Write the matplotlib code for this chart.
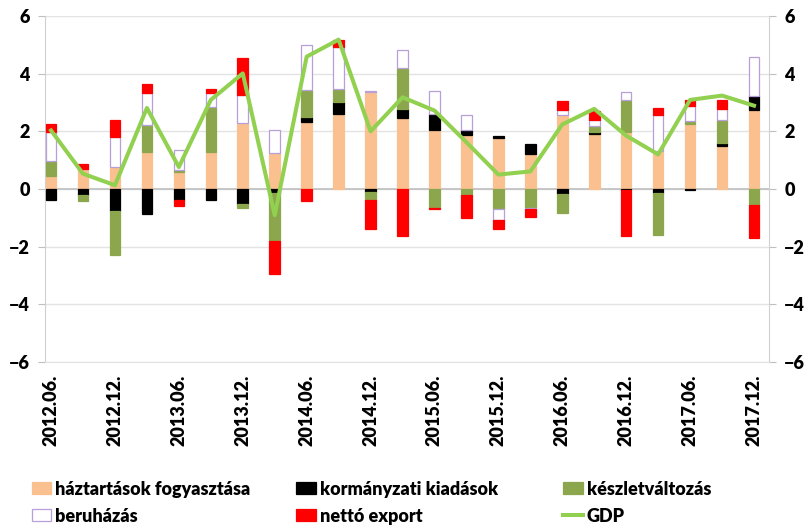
import numpy as np
import matplotlib
matplotlib.use("Agg")
import matplotlib.pyplot as plt
from matplotlib import font_manager as fm

# pick a family that has a real heavy/bold face installed
family = "DejaVu Sans"
weight = "bold"
faces = {(f.name, f.weight) for f in fm.fontManager.ttflist if f.style == "normal"}
for cand in ["Lato", "Open Sans", "Roboto", "Noto Sans", "Liberation Sans"]:
    if (cand, 800) in faces:
        family, weight = cand, 800
        break
    if (cand, 700) in faces:
        family, weight = cand, 700
        break

plt.rcParams['font.family'] = [family, 'DejaVu Sans']
plt.rcParams['font.weight'] = weight

quarters = ["2012.06.", "2012.09.", "2012.12.", "2013.03.", "2013.06.", "2013.09.",
            "2013.12.", "2014.03.", "2014.06.", "2014.09.", "2014.12.", "2015.03.",
            "2015.06.", "2015.09.", "2015.12.", "2016.03.", "2016.06.", "2016.09.",
            "2016.12.", "2017.03.", "2017.06.", "2017.09.", "2017.12."]

haztartas = [0.44, 0.70, 0.76, 1.30, 0.58, 1.27, 2.28, 1.26, 2.32, 2.61, 3.36, 2.46,
             2.03, 1.86, 1.78, 1.22, 2.55, 1.91, 1.99, 1.31, 2.24, 1.49, 2.75]
kormanyzati = [-0.39, -0.22, -0.76, -0.85, -0.37, -0.37, -0.53, -0.14, 0.17, 0.40, -0.12, 0.30,
               0.58, 0.19, 0.06, 0.33, -0.16, 0.08, -0.02, -0.14, -0.03, 0.10, 0.49]
keszlet = [0.54, -0.18, -1.54, 0.93, 0.07, 1.59, -0.12, -1.66, 0.95, 0.46, -0.25, 1.43,
           -0.65, -0.22, -0.69, -0.65, -0.67, 0.18, 1.08, -1.44, 0.12, 0.81, -0.54]
beruhazas = [0.99, 0.0, 1.04, 1.10, 0.71, 0.46, 0.99, 0.77, 1.56, 1.44, 0.05, 0.64,
             0.78, 0.53, -0.40, -0.04, 0.20, 0.24, 0.29, 1.26, 0.53, 0.38, 1.33]
netto_export = [0.27, 0.16, 0.58, 0.31, -0.21, 0.15, 1.29, -1.14, -0.40, 0.27, -1.01, -1.64,
                -0.03, -0.77, -0.29, -0.28, 0.30, 0.31, -1.61, 0.23, 0.18, 0.32, -1.15]
gdp = [2.03, 0.53, 0.13, 2.81, 0.76, 3.09, 4.01, -0.91, 4.59, 5.18, 2.00, 3.18,
       2.72, 1.62, 0.50, 0.61, 2.24, 2.78, 1.85, 1.20, 3.09, 3.24, 2.89]

series = [
    ("háztartások fogyasztása", haztartas, "#FAC090", "#FAC090"),
    ("kormányzati kiadások", kormanyzati, "#000000", "#000000"),
    ("készletváltozás", keszlet, "#8CA64E", "#8CA64E"),
    ("beruházás", beruhazas, "#FFFFFF", "#B79FD9"),
    ("nettó export", netto_export, "#FF0000", "#FF0000"),
]

fig = plt.figure(figsize=(8.09, 5.28), dpi=100)
ax = fig.add_axes([0.0556, 0.3144, 0.8950, 0.6553])

x = np.arange(len(quarters))
pos_bottom = np.zeros(len(x))
neg_bottom = np.zeros(len(x))
handles = {}
for name, vals, fc, ec in series:
    v = np.array(vals)
    bottom = np.where(v >= 0, pos_bottom, neg_bottom)
    bars = ax.bar(x, v, width=0.33, bottom=bottom, color=fc, edgecolor=ec,
                  linewidth=0.9, label=name, zorder=3)
    handles[name] = bars
    pos_bottom += np.where(v >= 0, v, 0)
    neg_bottom += np.where(v < 0, v, 0)

line, = ax.plot(x, gdp, color="#92D050", lw=2.9, zorder=4)
handles["GDP"] = line

ax.set_xlim(-0.19, 22.47)
ax.set_ylim(-6, 6)
ax.set_yticks(np.arange(-6, 7, 2))
ax.yaxis.grid(True, color="#E3E3E3", lw=1, zorder=0)
ax.axhline(0, color="#BFBFBF", lw=1.2, zorder=2)
ax.set_xticks(x[::2])
ax.set_xticklabels(quarters[::2], rotation=90, fontsize=13, fontweight=weight)
ax.tick_params(axis='x', length=0, pad=9)
ax.tick_params(axis='y', labelsize=13, labelright=True, right=True, length=5,
               color="#BFBFBF", pad=6)
for t in ax.yaxis.get_major_ticks():
    t.label1.set_fontweight(weight)
    t.label2.set_fontweight(weight)
for s in ["left", "right"]:
    ax.spines[s].set_color("#D0D0D0")
ax.spines["top"].set_visible(False)
ax.spines["bottom"].set_color("#E3E3E3")

groups = [["háztartások fogyasztása", "beruházás"],
          ["kormányzati kiadások", "nettó export"],
          ["készletváltozás", "GDP"]]
xs = [0.039, 0.366, 0.696]
for names, xpos in zip(groups, xs):
    fig.legend([handles[n] for n in names], names, loc="center left",
               bbox_to_anchor=(xpos, 0.048), frameon=False,
               prop={"size": 13, "weight": weight},
               handlelength=1.1, handleheight=0.65, handletextpad=0.2,
               labelspacing=0.55, borderpad=0, borderaxespad=0)

fig.savefig("out.png", dpi=100)
